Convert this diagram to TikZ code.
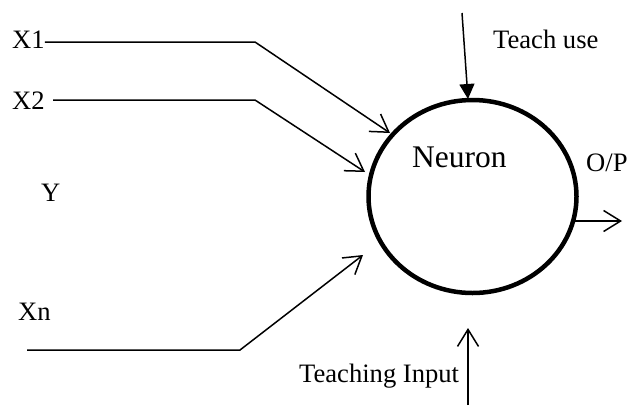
\documentclass[tikz,border=0pt]{standalone}
\usepackage{fontspec}
\setmainfont{Liberation Serif}
\usetikzlibrary{arrows.meta,shapes.geometric}
\begin{document}
\begin{tikzpicture}[x=1pt,y=-1pt,
  lbl/.style={anchor=base west,inner sep=0pt,font=\fontsize{26.6}{30}\selectfont},
  big/.style={anchor=base west,inner sep=0pt,font=\fontsize{31.5}{36}\selectfont},
  wire/.style={line width=1.5pt},
  barb/.style={wire,-{Straight Barb[length=17pt,width=21pt,line width=1.5pt]}},
  solidtip/.style={wire,-{Triangle[length=15pt,width=15pt]}}]
\useasboundingbox (0,0) rectangle (636,405);
% neuron
\node[draw,ellipse,line width=4.5pt,minimum width=208pt,minimum height=193pt,inner sep=0pt] (neuron) at (472.5,196.5) {};
\node[big] (ntext) at (412,167) {Neuron};
% labels
\node[lbl] (x1) at (12,48) {X1};
\node[lbl] (x2) at (12,109) {X2};
\node[lbl] (y) at (41,201) {Y};
\node[lbl] (xn) at (18,320) {Xn};
\node[lbl] (tu) at (493,48) {Teach use};
\node[lbl] (op) at (586,171) {O/P};
\node[lbl] (ti) at (299,382) {Teaching Input};
% coordinates
\coordinate (b1) at (255,42);
\coordinate (e1) at (390,133);
\coordinate (s2) at (53,100);
\coordinate (b2) at (255,100);
\coordinate (e2) at (365,172);
\coordinate (sn) at (27,350);
\coordinate (bn) at (240,350);
\coordinate (en) at (363,255);
\coordinate (tus) at (462,13);
\coordinate (tue) at (468,99);
\coordinate (ops) at (574,221);
\coordinate (ope) at (622,221);
\coordinate (tis) at (468,405);
\coordinate (tie) at (468,328);
% connectors
\draw[barb] (x1.east |- b1) -- (b1) -- (e1);
\draw[barb] (s2) -- (b2) -- (e2);
\draw[barb] (sn) -- (bn) -- (en);
\draw[solidtip] (tus) -- (tue);
\draw[barb] (ops) -- (ope);
\draw[barb] (tis) -- (tie);
\end{tikzpicture}
\end{document}
